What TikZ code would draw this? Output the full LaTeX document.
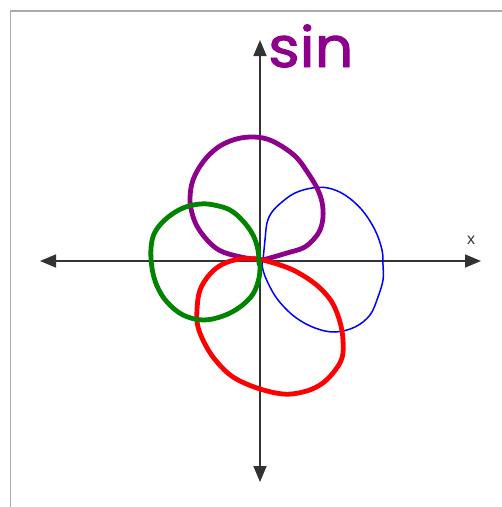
\documentclass[tikz,border=0pt]{standalone}
\usepackage{fontspec}
\newfontfamily\handfont[FakeBold=1.6]{Poppins}
\newfontfamily\labelfont{Liberation Sans}
\usetikzlibrary{arrows.meta}
\definecolor{axisgray}{RGB}{51,51,51}
\definecolor{framegray}{RGB}{170,170,170}
\definecolor{petalpurple}{RGB}{140,0,140}
\definecolor{petalgreen}{RGB}{0,132,0}
\definecolor{petalred}{RGB}{255,0,0}
\definecolor{petalblue}{RGB}{0,0,255}
\tikzset{
  axisline/.style={draw=axisgray, line width=1.6pt, -{Triangle[length=16pt,width=13pt]}},
  thickpetal/.style={line width=4.8pt, line cap=round, line join=round},
  thinpetal/.style={line width=1.5pt, line cap=round, line join=round},
  frameline/.style={draw=framegray, line width=1.4pt}
}
\begin{document}
\begin{tikzpicture}[x=1pt,y=-1pt]
\useasboundingbox (0,0) rectangle (502,507);
% frame
\draw[frameline] (10.5,507) -- (10.5,11) -- (502,11);
% axes
\coordinate (O) at (260,261);
\coordinate (xL) at (40,261);
\coordinate (xR) at (481,261);
\coordinate (yT) at (260,40);
\coordinate (yB) at (260,482);
\draw[axisline] (O) -- (xR);
\draw[axisline] (O) -- (xL);
\draw[axisline] (O) -- (yT);
\draw[axisline] (O) -- (yB);
\node[anchor=base, text=axisgray, inner sep=0pt, font=\labelfont\fontsize{16}{16}\selectfont] (xlab) at (471,244) {x};
\node[anchor=base west, text=petalpurple, inner sep=0pt, xscale=1.08, font=\handfont\fontsize{56}{56}\selectfont] (sinlab) at (268,67) {sin};
% blue petal
\draw[petalblue, thinpetal] plot[smooth, tension=0.6] coordinates {
(263,260) (265,240) (267,223) (272,212) (282,202) (295,193) (312,188) (328,188)
(345,195) (362,210) (375,230) (382,250) (383,265) (383,280) (378,297) (370,315)
(355,327) (335,332) (315,328) (295,317) (278,300) (268,283) (263,270) (262,261)};
% purple petal
\draw[petalpurple, thickpetal] plot[smooth, tension=0.6] coordinates {
(260,259) (246,258) (223,252) (210,243) (198,228) (192,213) (190,198) (193,180)
(203,162) (217,148) (233,140) (250,137) (267,139) (283,147) (297,158) (308,173)
(317,188) (322,202) (323,217) (320,230) (313,240) (303,248) (287,253) (270,258) (262,260)};
% red petal
\draw[petalred, thickpetal] plot[smooth, tension=0.6] coordinates {
(258,259) (240,259) (223,264) (210,274) (200,290) (197,310) (198,327) (206,346)
(217,362) (233,377) (257,388) (283,394) (303,392) (320,385) (333,373) (342,358)
(343,340) (340,322) (333,304) (323,291) (310,280) (293,270) (277,264) (263,260)};
% green petal
\draw[petalgreen, thickpetal] plot[smooth, tension=0.6] coordinates {
(259,264) (258,250) (253,235) (243,221) (230,210) (214,205) (200,204) (183,208)
(167,218) (155,232) (151,248) (152,268) (157,286) (167,302) (183,315) (203,320)
(223,316) (240,307) (253,294) (259,278) (260,265)};
\end{tikzpicture}
\end{document}
